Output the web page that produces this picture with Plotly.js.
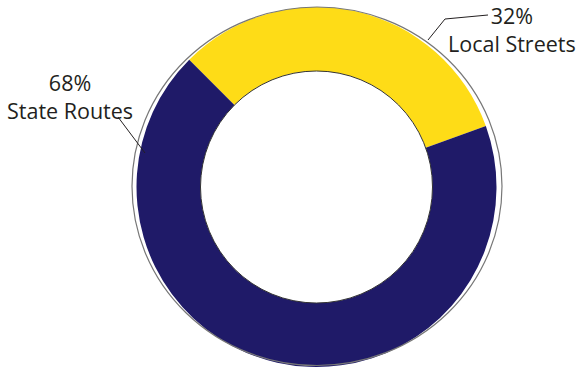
<!DOCTYPE html>
<html>
<head>
<meta charset="utf-8">
<script src="https://cdn.plot.ly/plotly-3.0.1.min.js"></script>
<style>html,body{margin:0;padding:0;background:#fff;}#chart{width:579px;height:369px;}</style>
</head>
<body>
<div id="chart"></div>
<script>
const categories = ["Local Streets", "State Routes"];
const shares = [32, 68];
const percentLabels = ["32%", "68%"];
const colors = ["#fedc17", "#1f1a68"];

const W = 579, H = 369;
const cx = 316.5, cy = 187, R = 180;
const px = x => x / W;
const py = y => 1 - y / H;

const data = [{
  type: "pie",
  labels: categories,
  values: shares,
  sort: false,
  direction: "clockwise",
  rotation: -45,
  hole: 0.645,
  textinfo: "none",
  hoverinfo: "label+percent",
  showlegend: false,
  marker: { colors: colors, line: { width: 0 } },
  domain: { x: [px(cx - R), px(cx + R)], y: [py(cy + R), py(cy - R)] }
}];

const textColor = "#231f20";
const font = { family: "Open Sans, Noto Sans, sans-serif", size: 21.5, color: textColor };

const seg = (pts) => pts.map((p, i) => (i ? "L" : "M") + px(p[0]) + "," + py(p[1])).join(" ");

const layout = {
  width: W, height: H,
  margin: { l: 0, r: 0, t: 0, b: 0 },
  paper_bgcolor: "#fff",
  showlegend: false,
  shapes: [
    { type: "circle", xref: "paper", yref: "paper", x0: px(132), x1: px(502), y0: py(365.5), y1: py(7), line: { color: "#777", width: 1.2 } },
    { type: "circle", xref: "paper", yref: "paper", x0: px(cx - 116), x1: px(cx + 116), y0: py(cy + 116), y1: py(cy - 116), line: { color: "#333", width: 1 } },
    { type: "path", xref: "paper", yref: "paper", path: seg([[428, 40], [445, 19], [488, 15]]), line: { color: textColor, width: 1 } },
    { type: "path", xref: "paper", yref: "paper", path: seg([[118, 117], [145, 153]]), line: { color: textColor, width: 1 } }
  ],
  annotations: [
    { text: percentLabels[0] + "<br>" + categories[0], x: px(511.5), y: py(29.5), xref: "paper", yref: "paper", showarrow: false, xanchor: "center", yanchor: "middle", align: "center", font: font },
    { text: percentLabels[1] + "<br>" + categories[1], x: px(70), y: py(96.5), xref: "paper", yref: "paper", showarrow: false, xanchor: "center", yanchor: "middle", align: "center", font: font }
  ]
};

Plotly.newPlot("chart", data, layout, { displayModeBar: false, staticPlot: true });
</script>
</body>
</html>
